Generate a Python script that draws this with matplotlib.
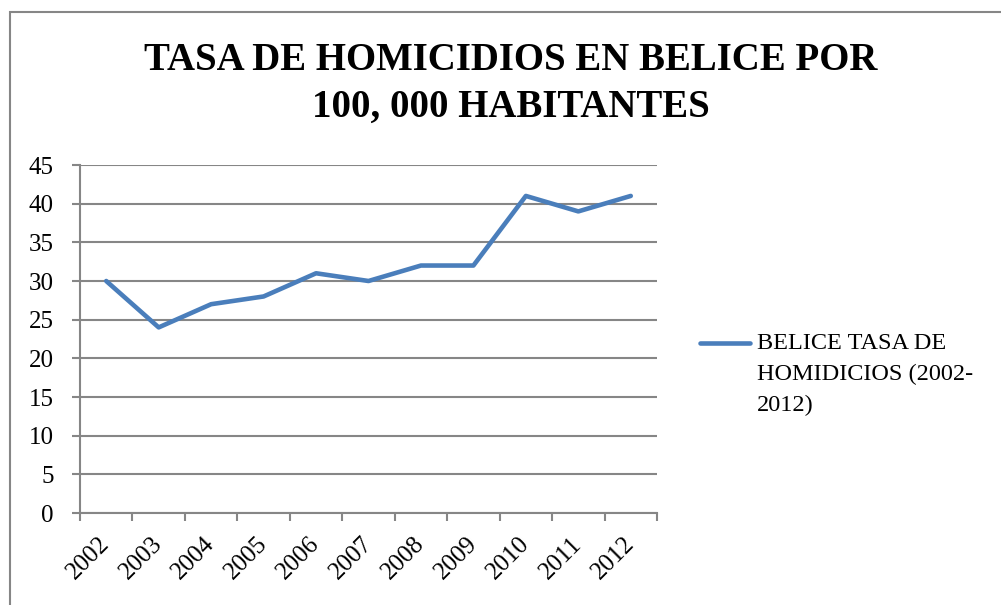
import matplotlib.pyplot as plt
from matplotlib.lines import Line2D
from matplotlib.patches import Rectangle
import numpy as np

years = ["2002", "2003", "2004", "2005", "2006", "2007", "2008", "2009", "2010", "2011", "2012"]
tasa = [30, 24, 27, 28, 31, 30, 32, 32, 41, 39, 41]
yticks = [0, 5, 10, 15, 20, 25, 30, 35, 40, 45]
serie = "BELICE TASA DE\nHOMIDICIOS (2002-\n2012)"
titulo = "TASA DE HOMICIDIOS EN BELICE POR\n100, 000 HABITANTES"

plt.rcParams['font.family'] = ['Liberation Serif']
azul = "#4A7EBB"
gris = "#868686"

W, H = 1001, 605
fig = plt.figure(figsize=(W / 100, H / 100), dpi=100)
ax = fig.add_axes([80 / W, 1 - 513 / H, (657 - 80) / W, (513 - 165) / H])

x = np.arange(len(years))
ax.plot(x, tasa, color=azul, linewidth=3.3, solid_capstyle='round', solid_joinstyle='round')

ax.set_xlim(-0.5, len(years) - 0.5)
ax.set_ylim(0, 45)
ax.set_yticks(yticks)
ax.set_yticklabels([str(v) for v in yticks])
ax.yaxis.grid(True, color=gris, linewidth=1.5)
ax.set_axisbelow(True)

ax.set_xticks(np.arange(-0.5, len(years)), labels=[])
ax.set_xticks(x, minor=True)
ax.set_xticklabels(years, minor=True, rotation=45, ha='right', va='center',
                   rotation_mode='anchor')
ax.tick_params(axis='x', which='minor', length=0, pad=20, labelsize=18)
ax.tick_params(axis='x', which='major', length=6, width=1.5, color=gris)
ax.tick_params(axis='y', length=6, width=1.5, color=gris, pad=13, labelsize=18)

for s in ['top', 'right']:
    ax.spines[s].set_visible(False)
for s in ['left', 'bottom']:
    ax.spines[s].set_color(gris)
    ax.spines[s].set_linewidth(1.5)

fig.text(511 / W, 1 - 84 / H, titulo, ha='center', va='center', fontsize=28,
         fontweight='bold', linespacing=1.37)

ly = 1 - 343 / H
fig.add_artist(Line2D([700 / W, 750 / W], [ly, ly], color=azul, linewidth=3.3,
                      solid_capstyle='round'))
fig.text(757 / W, 1 - 333 / H, serie, ha='left', va='top', fontsize=17.5, linespacing=1.6)

fig.add_artist(Rectangle((9.5 / W, -0.1), 1.2, 1 - 12 / H + 0.1, transform=fig.transFigure,
                         fill=False, edgecolor=gris, linewidth=1.5))

fig.savefig("out.png", dpi=100)
